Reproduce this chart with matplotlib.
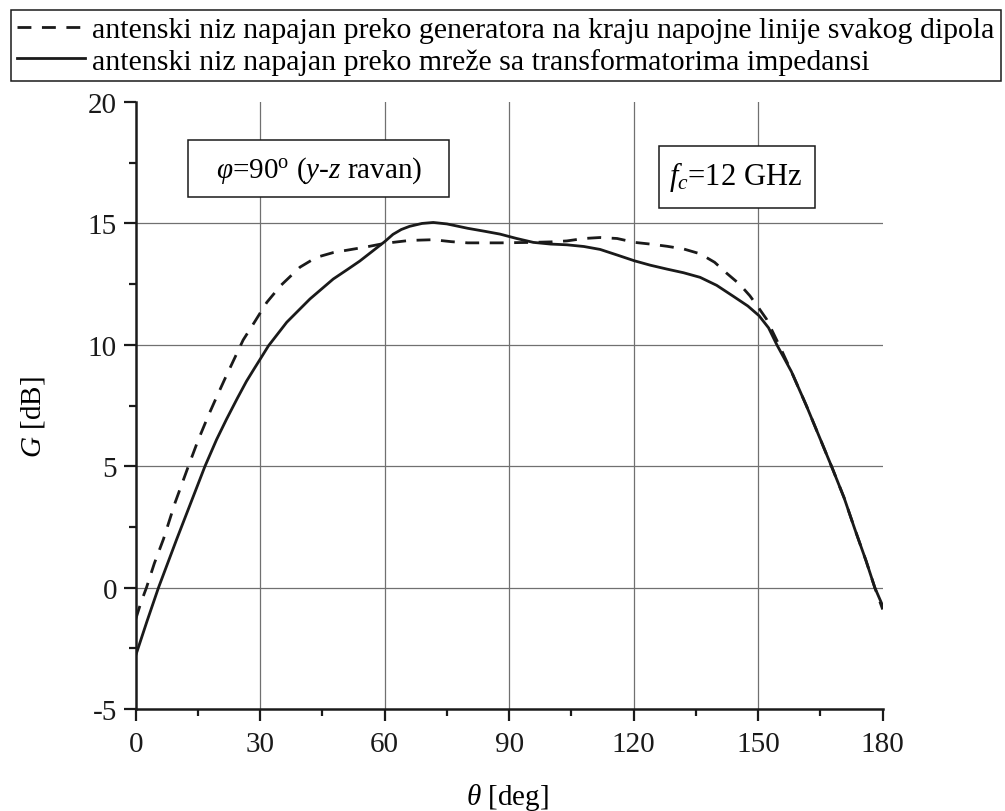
import matplotlib
matplotlib.use('Agg')
import matplotlib.pyplot as plt
from matplotlib.lines import Line2D
from matplotlib.patches import Rectangle
from matplotlib.ticker import MultipleLocator

plt.rcParams['font.family'] = ['Liberation Serif', 'DejaVu Serif']
plt.rcParams['mathtext.fontset'] = 'custom'
plt.rcParams['mathtext.rm'] = 'Liberation Serif'
plt.rcParams['mathtext.it'] = 'Liberation Serif:italic'
plt.rcParams['axes.unicode_minus'] = False

# gain vs theta
theta_dash = [0, 1.3, 2.6, 4.5, 6.7, 9.5, 12.7, 15, 17.5, 19.5, 21.5, 23.7, 25.9, 28.5,
              31.6, 35, 39.6, 43.5, 47.6, 51, 55.8, 60, 66, 71.7, 76, 80, 87.8, 95.8, 100,
              103.9, 108, 111.9, 116, 120.2, 124, 128, 132, 136, 139.5, 142.4, 145.5,
              148, 150, 152, 155.3, 158, 161.6, 165, 167.9, 170.7, 173.3, 176, 178.1, 180]
g_dash = [-1.3, -0.6, 0, 1.0, 2.0, 3.5, 5.0, 6.05, 7.08, 7.85, 8.6, 9.4, 10.2, 10.9,
          11.75, 12.45, 13.2, 13.6, 13.8, 13.9, 14.04, 14.18, 14.3, 14.33, 14.25, 14.2, 14.2, 14.22, 14.24,
          14.28, 14.38, 14.42, 14.38, 14.22, 14.15, 14.06, 13.95, 13.75, 13.4, 12.95, 12.5,
          12.02, 11.55, 11.06, 9.9, 8.9, 7.5, 6.1, 4.9, 3.7, 2.4, 1.1, 0, -0.9]

theta_solid = [0, 2.7, 5.5, 7.7, 9.9, 13.3, 16.7, 19.5, 21.9, 24.5, 26.7, 28.5, 30, 32,
               36.4, 42, 47.6, 51, 54, 57, 60, 62, 64, 66, 69, 71.7, 75, 80, 84, 87.8, 91.8, 95.8,
               100, 103.9, 108, 111.9, 116, 120.2, 124, 128, 132, 136, 140, 144, 147.5,
               150.2, 152.5, 154.5, 158, 161.6, 165, 167.9, 170.7, 173.3, 176, 178.1, 180]
g_solid = [-2.8, -1.4, 0, 1.0, 2.0, 3.5, 5.0, 6.1, 6.94, 7.8, 8.5, 9.0, 9.41, 9.96,
           10.93, 11.89, 12.71, 13.1, 13.45, 13.85, 14.25, 14.55, 14.75, 14.88, 15.0, 15.04, 14.98, 14.8,
           14.68, 14.56, 14.38, 14.22,
           14.15, 14.12, 14.05, 13.93, 13.7, 13.46, 13.28, 13.12, 12.97, 12.78, 12.45, 12.0, 11.6,
           11.2, 10.7, 10.0, 8.9, 7.5, 6.1, 4.9, 3.7, 2.4, 1.1, 0, -0.75]

label_dash = 'antenski niz napajan preko generatora na kraju napojne linije svakog dipola'
label_solid = 'antenski niz napajan preko mreže sa transformatorima impedansi'

x_ticks = [0, 30, 60, 90, 120, 150, 180]
y_ticks = [-5, 0, 5, 10, 15, 20]
x_grid = [30, 60, 90, 120, 150]
y_grid = [0, 5, 10, 15]

fs = 21
lw = 2.0
dash_style = (5, 3.8)
ink = '#1a1a1a'

fig = plt.figure(figsize=(10.05, 8.12), dpi=100)
ax = fig.add_axes([0.135, 0.1256, 0.7433, 0.7475])

for gx in x_grid:
    ax.axvline(gx, color='#707070', lw=0.9, zorder=1)
for gy in y_grid:
    ax.axhline(gy, color='#707070', lw=0.9, zorder=1)

ax.plot(theta_dash, g_dash, color=ink, lw=lw, ls=(0, dash_style), zorder=3)
ax.plot(theta_solid, g_solid, color=ink, lw=lw, zorder=4)

ax.set_xlim(0, 180)
ax.set_ylim(-5, 20)
ax.set_xticks(x_ticks)
ax.set_yticks(y_ticks)
ax.xaxis.set_minor_locator(MultipleLocator(15))
ax.yaxis.set_minor_locator(MultipleLocator(2.5))
ax.spines['top'].set_visible(False)
ax.spines['right'].set_visible(False)
for s in ['left', 'bottom']:
    ax.spines[s].set_linewidth(1.8)
    ax.spines[s].set_color(ink)
ax.tick_params(which='major', direction='out', length=8.5, width=1.6, labelsize=fs,
               colors=ink)
ax.tick_params(which='minor', direction='out', length=5, width=1.6, colors=ink)
ax.tick_params(axis='x', which='major', pad=7)
ax.tick_params(axis='y', which='major', pad=5)

fig.text(33 / 1005, 1 - 417 / 812, r'$G$ [dB]', rotation=90, ha='center', va='center',
         fontsize=fs)
fig.text(507 / 1005, 1 - 798 / 812, r'$\theta$ [deg]', ha='center', va='center',
         fontsize=fs)

# annotation boxes
ax.add_patch(Rectangle((0.0696, 0.843), 0.3502, 0.095, transform=ax.transAxes,
                       fill=True, facecolor='white', edgecolor=ink, lw=1.1, zorder=5))
ax.text(0.245, 0.889, r'$\varphi$=90$^{\rm o}$ ($y$-$z$ ravan)', transform=ax.transAxes,
        ha='center', va='center', fontsize=fs, zorder=6)
ax.add_patch(Rectangle((0.701, 0.825), 0.208, 0.102, transform=ax.transAxes,
                       fill=True, facecolor='white', edgecolor=ink, lw=1.1, zorder=5))
ax.text(0.803, 0.878, r'$f_c$=12 GHz', transform=ax.transAxes,
        ha='center', va='center', fontsize=fs + 1, zorder=6)

handles = [Line2D([], [], color=ink, lw=lw, ls=(0, dash_style)),
           Line2D([], [], color=ink, lw=lw)]
leg = fig.legend(handles, [label_dash, label_solid], loc='upper left',
                 bbox_to_anchor=(10.7 / 1005, 1 - 11 / 812), borderaxespad=0,
                 fancybox=False, framealpha=1, edgecolor=ink, fontsize=21.5,
                 handlelength=2.27, handletextpad=0.23, borderpad=0.22,
                 labelspacing=0.15)
leg.get_frame().set_linewidth(1.1)

fig.savefig('out.png', dpi=100)
